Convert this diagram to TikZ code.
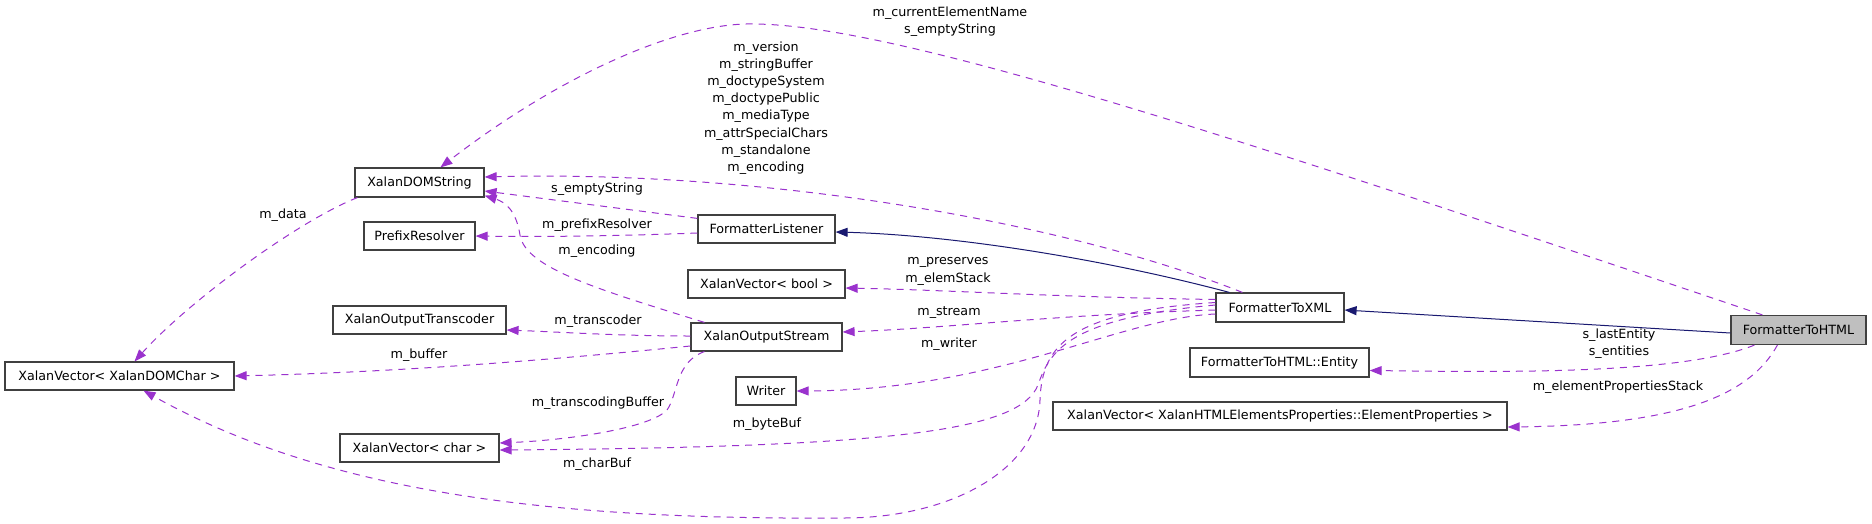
\documentclass[tikz,border=0pt]{standalone}
\usepackage{fontspec}
\setmainfont{DejaVu Sans}
\usetikzlibrary{arrows.meta}
\definecolor{usec}{HTML}{9A32CD}
\definecolor{inhc}{HTML}{191970}
\definecolor{boxc}{HTML}{404040}
\definecolor{hilite}{HTML}{BFBFBF}
\begin{document}
\begin{tikzpicture}[x=1pt,y=-1pt,
  cls/.style={draw=boxc, line width=1.2pt, fill=white, inner sep=0pt, minimum height=28pt, font=\fontsize{12.7}{15}\selectfont},
  usage/.style={draw=usec, line width=1pt, dash pattern=on 7pt off 6pt, -{Triangle[length=12pt,width=9pt,fill=usec]}},
  inherit/.style={draw=inhc, line width=1pt, -{Triangle[length=12pt,width=9pt,fill=inhc]}},
  lbl/.style={font=\fontsize{12.7}{17.2}\selectfont, align=center, inner sep=0pt}]
\useasboundingbox (0,0) rectangle (1872,523);

% class nodes
\node[cls, minimum width=129pt, minimum height=29pt] (dom) at (419.5,182.5) {XalanDOMString};
\node[cls, minimum width=111pt] (pre) at (419.5,236) {PrefixResolver};
\node[cls, minimum width=229pt] (dchar) at (119.5,376) {XalanVector< XalanDOMChar >};
\node[cls, minimum width=173pt] (otr) at (419.5,320) {XalanOutputTranscoder};
\node[cls, minimum width=159pt] (vchar) at (419.5,448) {XalanVector< char >};
\node[cls, minimum width=137pt] (flis) at (766.5,229) {FormatterListener};
\node[cls, minimum width=157pt] (vbool) at (766.5,284) {XalanVector< bool >};
\node[cls, minimum width=151pt] (ostr) at (766.5,337) {XalanOutputStream};
\node[cls, minimum width=60pt] (wr) at (766,391) {Writer};
\node[cls, minimum width=128pt, minimum height=29pt] (xml) at (1280,307.5) {FormatterToXML};
\node[cls, minimum width=179pt, minimum height=29pt] (ent) at (1279.5,362.5) {FormatterToHTML::Entity};
\node[cls, minimum width=454pt] (eprop) at (1280,416) {XalanVector< XalanHTMLElementsProperties::ElementProperties >};
\node[cls, fill=hilite, minimum width=135pt, minimum height=29pt] (html) at (1798.5,330) {FormatterToHTML};

% inheritance
\draw[inherit] ([yshift=-3pt]html.west) -- ([yshift=-2.5pt]xml.east);
\draw[inherit] ([xshift=14pt]xml.north west) .. controls (1100,258) and (950,235) .. ([yshift=-3pt]flis.east);

% usage edges from FormatterToHTML
\draw[usage] ([xshift=32pt]html.north west) .. controls (1250,142) and (900,25) .. (754,24) .. controls (680,22) and (560,75) .. ([xshift=86pt]dom.north west);
\draw[usage] ([xshift=24pt]html.south west) .. controls (1680,375) and (1500,372) .. ([yshift=-8pt]ent.east);
\draw[usage] ([xshift=47pt]html.south west) .. controls (1750,395) and (1680,425) .. ([yshift=-11pt]eprop.east);

% usage edges from FormatterToXML
\draw[usage] ([xshift=27pt]xml.north west) .. controls (1060,220) and (760,170) .. ([yshift=5.5pt]dom.east);
\draw[usage] ([yshift=8pt]xml.west) .. controls (1050,297) and (950,290) .. ([yshift=-4pt]vbool.east);
\draw[usage] ([yshift=-2.5pt]xml.west) .. controls (1050,315) and (950,328) .. ([yshift=5pt]ostr.east);
\draw[usage] ([yshift=-6.5pt]xml.west) .. controls (1120,318) and (1000,390) .. (wr.east);
\draw[usage] ([yshift=2.5pt]xml.west) .. controls (1070,318) and (1050,350) .. (1038,385) .. controls (1020,430) and (900,447) .. ([yshift=-2pt]vchar.east);
\draw[usage] ([yshift=5pt]xml.west) .. controls (1070,312) and (1042,345) .. (1040,400) .. controls (1038,470) and (950,518) .. (844,518) .. controls (560,520) and (330,495) .. ([xshift=24pt]dchar.south);

% usage edges from XalanOutputStream
\draw[usage] ([xshift=14pt]ostr.north west) .. controls (600,290) and (525,268) .. (520,235) .. controls (516,210) and (505,202) .. ([yshift=2pt]dom.south east);
\draw[usage] ([yshift=1pt]ostr.west) .. controls (620,336) and (560,332) .. ([yshift=-10pt]otr.east);
\draw[usage] ([yshift=-9pt]ostr.west) .. controls (550,360) and (400,372) .. (dchar.east);
\draw[usage] ([xshift=14pt]ostr.south west) .. controls (675,362) and (678,395) .. (667,410) .. controls (650,428) and (570,440) .. ([yshift=5pt]vchar.east);

% usage edges from FormatterListener
\draw[usage] ([yshift=-4pt]flis.north west) -- ([yshift=-8.5pt]dom.east);
\draw[usage] ([yshift=-4pt]flis.west) .. controls (620,236) and (540,237) .. (pre.east);

% XalanDOMString -> XalanVector<XalanDOMChar>
\draw[usage] ([xshift=3pt]dom.south west) .. controls (300,220) and (190,300) .. ([xshift=15pt]dchar.north);

% labels
\node[lbl] (la) at (950,22) {m\_currentElementName\\s\_emptyString};
\node[lbl] (lb) at (766,108) {m\_version\\m\_stringBuffer\\m\_doctypeSystem\\m\_doctypePublic\\m\_mediaType\\m\_attrSpecialChars\\m\_standalone\\m\_encoding};
\node[lbl] (lc) at (597,189) {s\_emptyString};
\node[lbl] (ld) at (597,225) {m\_prefixResolver};
\node[lbl] (le) at (597,251) {m\_encoding};
\node[lbl] (lf) at (948,271.5) {m\_preserves\\m\_elemStack};
\node[lbl] (lg) at (949,313) {m\_stream};
\node[lbl] (lh) at (949,344) {m\_writer};
\node[lbl] (li) at (767,424) {m\_byteBuf};
\node[lbl] (lj) at (597,464) {m\_charBuf};
\node[lbl] (lk) at (598,403) {m\_transcodingBuffer};
\node[lbl] (ll) at (598,321) {m\_transcoder};
\node[lbl] (lm) at (419,355) {m\_buffer};
\node[lbl] (ln) at (283,215) {m\_data};
\node[lbl] (lo) at (1619,343.5) {s\_lastEntity\\s\_entities};
\node[lbl] (lp) at (1618,387) {m\_elementPropertiesStack};
\end{tikzpicture}
\end{document}
